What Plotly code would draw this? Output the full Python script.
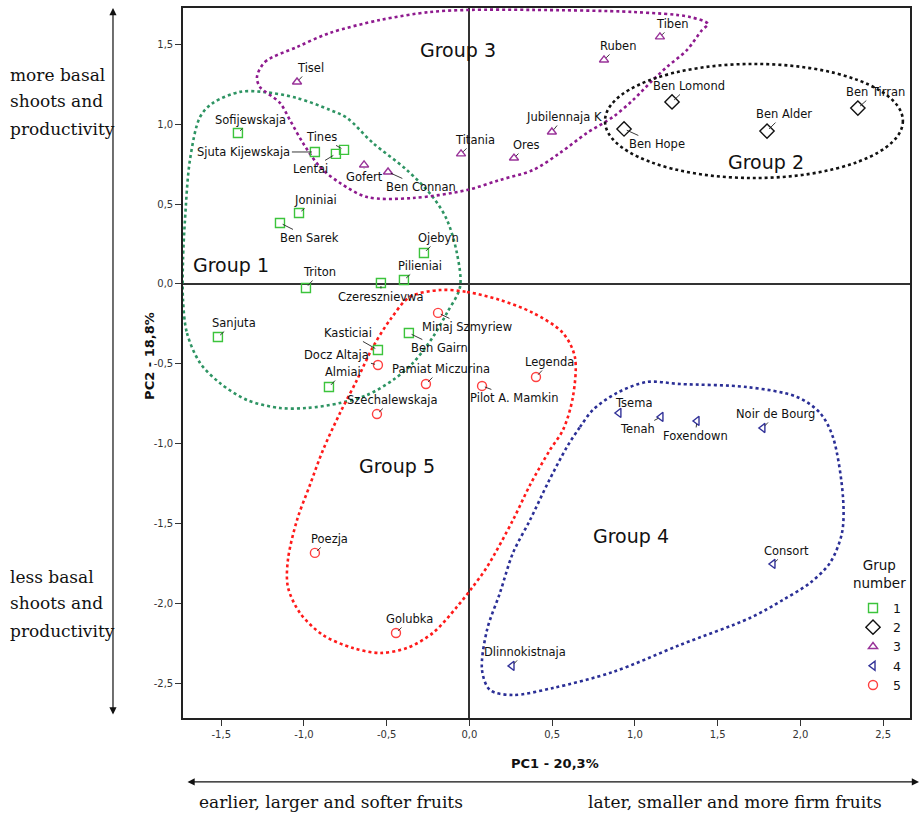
import plotly.graph_objects as go

# ---------------- data (PC1, PC2 scores) ----------------
g1_names = ["Sofijewskaja", "Sjuta Kijewskaja", "Tines", "Lentai", "Joniniai", "Ben Sarek",
            "Ojebyn", "Pilieniai", "Triton", "Czeresznievwa", "Sanjuta", "Kasticiai",
            "Almiai", "Ben Gairn"]
g1_pc1 = [-1.399, -0.934, -0.758, -0.807, -1.030, -1.145, -0.275, -0.396, -0.988, -0.535,
          -1.520, -0.553, -0.849, -0.366]
g1_pc2 = [0.945, 0.826, 0.839, 0.814, 0.444, 0.382, 0.194, 0.025, -0.025, 0.006,
          -0.332, -0.413, -0.645, -0.307]

g2_names = ["Ben Lomond", "Ben Hope", "Ben Alder", "Ben Tirran"]
g2_pc1 = [1.224, 0.934, 1.798, 2.347]
g2_pc2 = [1.139, 0.970, 0.957, 1.101]

g3_names = ["Tisel", "Gofert", "Ben Connan", "Titania", "Ores", "Jubilennaja K",
            "Ruben", "Tiben"]
g3_pc1 = [-1.042, -0.637, -0.492, -0.051, 0.269, 0.498, 0.813, 1.151]
g3_pc2 = [1.264, 0.745, 0.701, 0.814, 0.788, 0.951, 1.402, 1.546]

g4_names = ["Tsema", "Tenah", "Foxendown", "Noir de Bourg", "Consort", "Dlinnokistnaja"]
g4_pc1 = [0.903, 1.157, 1.375, 1.773, 1.834, 0.257]
g4_pc2 = [-0.807, -0.832, -0.857, -0.901, -1.752, -2.390]

g5_names = ["Minaj Szmyriew", "Docz Altaja", "Pamiat Miczurina", "Szechalewskaja",
            "Pilot A. Mamkin", "Legenda", "Poezja", "Golubka"]
g5_pc1 = [-0.190, -0.553, -0.263, -0.559, 0.076, 0.402, -0.934, -0.444]
g5_pc2 = [-0.181, -0.507, -0.626, -0.814, -0.638, -0.582, -1.683, -2.184]

# hand-drawn group outlines (PC1, PC2 vertices)
loop1_pc1 = [-1.731, -1.707, -1.628, -1.508, -1.344, -1.145, -0.982, -0.782, -0.619, -0.462,
             -0.341, -0.221, -0.136, -0.057, -0.076, -0.136, -0.221, -0.378, -0.583, -0.740,
             -0.843, -1.042, -1.248, -1.387, -1.550, -1.628, -1.689, -1.719, -1.731]
loop1_pc2 = [-0.100, -0.307, -0.494, -0.620, -0.726, -0.776, -0.776, -0.745, -0.695, -0.601,
             -0.494, -0.332, -0.181, -0.019, 0.194, 0.401, 0.544, 0.713, 0.882, 1.039,
             1.089, 1.164, 1.202, 1.202, 1.133, 1.045, 0.776, 0.401, 0.150]

loop2_pc1 = [0.819, 2.619]   # ellipse extent
loop2_pc2 = [0.663, 1.377]

loop3_pc1 = [-1.284, -1.236, -1.042, -0.843, -0.541, -0.239, 0.003, 0.384, 0.988, 1.332,
             1.441, 1.405, 1.314, 1.193, 1.109, 0.988, 0.867, 0.710, 0.547, 0.384,
             0.184, -0.015, -0.341, -0.619, -0.782, -0.903, -1.006, -1.085, -1.145, -1.266]
loop3_pc2 = [1.295, 1.389, 1.483, 1.571, 1.652, 1.702, 1.715, 1.715, 1.702, 1.671,
             1.627, 1.589, 1.464, 1.358, 1.277, 1.151, 1.045, 0.945, 0.820, 0.713,
             0.651, 0.588, 0.538, 0.544, 0.632, 0.732, 0.882, 1.026, 1.133, 1.233]

loop4_pc1 = [0.589, 0.668, 0.746, 0.891, 1.073, 1.272, 1.677, 1.979, 2.118, 2.196,
             2.257, 2.251, 2.178, 2.057, 1.894, 1.695, 1.272, 0.867, 0.505, 0.263,
             0.124, 0.076, 0.106, 0.184, 0.263, 0.366, 0.474]
loop4_pc2 = [-1.020, -0.895, -0.788, -0.682, -0.613, -0.626, -0.645, -0.707, -0.807, -0.957,
             -1.333, -1.558, -1.746, -1.871, -1.977, -2.090, -2.259, -2.428, -2.528, -2.572,
             -2.541, -2.416, -2.165, -1.934, -1.683, -1.477, -1.245]

loop5_pc1 = [-0.178, -0.015, 0.184, 0.384, 0.565, 0.637, 0.625, 0.565, 0.486, 0.366,
             0.263, 0.106, 0.015, -0.076, -0.221, -0.378, -0.541, -0.704, -0.885, -1.024,
             -1.097, -1.097, -1.042, -0.964, -0.885, -0.782, -0.680, -0.583, -0.480, -0.360]
loop5_pc2 = [-0.038, -0.050, -0.100, -0.181, -0.307, -0.457, -0.707, -0.914, -1.039, -1.258,
             -1.477, -1.771, -1.902, -2.021, -2.184, -2.278, -2.309, -2.278, -2.197, -2.059,
             -1.896, -1.727, -1.477, -1.258, -1.039, -0.807, -0.601, -0.394, -0.225, -0.081]

group_titles = ["Group 1", "Group 2", "Group 3", "Group 4", "Group 5"]
group_title_pc1 = [-1.441, 1.792, -0.069, 0.976, -0.438]
group_title_pc2 = [0.119, 0.763, 1.464, -1.577, -1.139]

x_tickvals = [-1.5, -1.0, -0.5, 0.0, 0.5, 1.0, 1.5, 2.0, 2.5]
x_ticktext = ["-1,5", "-1,0", "-0,5", "0,0", "0,5", "1,0", "1,5", "2,0", "2,5"]
y_tickvals = [1.5, 1.0, 0.5, 0.0, -0.5, -1.0, -1.5, -2.0, -2.5]
y_ticktext = ["1,5", "1,0", "0,5", "0,0", "-0,5", "-1,0", "-1,5", "-2,0", "-2,5"]

# ---------------- label placement (pixel offsets of label centre) ----------------
label_offsets = {
    "Sofijewskaja": (13, -13), "Sjuta Kijewskaja": (-71, 0), "Tines": (-23, -13),
    "Lentai": (-25, 15), "Joniniai": (16, -13), "Ben Sarek": (30, 15), "Ojebyn": (15, -15),
    "Pilieniai": (16, -14), "Triton": (14, -16), "Czeresznievwa": (0, 14),
    "Sanjuta": (16, -14), "Kasticiai": (-30, -17), "Almiai": (14, -15), "Ben Gairn": (31, 15),
    "Ben Lomond": (17, -16), "Ben Hope": (33, 15), "Ben Alder": (17, -17),
    "Ben Tirran": (18, -16),
    "Tisel": (13, -14), "Gofert": (0, 12), "Ben Connan": (33, 15), "Titania": (14, -14),
    "Ores": (13, -13), "Jubilennaja K": (12, -15), "Ruben": (14, -14), "Tiben": (13, -13),
    "Tsema": (15, -10), "Tenah": (-23, 12), "Foxendown": (-2, 15), "Noir de Bourg": (13, -14),
    "Consort": (14, -13), "Dlinnokistnaja": (13, -14),
    "Minaj Szmyriew": (29, 14), "Docz Altaja": (-41, -10), "Pamiat Miczurina": (15, -15),
    "Szechalewskaja": (15, -14), "Pilot A. Mamkin": (32, 12), "Legenda": (14, -15),
    "Poezja": (15, -14), "Golubka": (14, -14),
}

SANS = "DejaVu Sans"
SERIF = "DejaVu Serif"
INK = "#111111"

fig = go.Figure()

dot = "3px,3px"
loops = [
    (loop1_pc1, loop1_pc2, "#2e9463"),
    (loop3_pc1, loop3_pc2, "#8e1a8e"),
    (loop4_pc1, loop4_pc2, "#2b2f96"),
    (loop5_pc1, loop5_pc2, "#ff1a1a"),
]
for lx, ly, col in loops:
    fig.add_trace(go.Scatter(x=list(lx) + [lx[0]], y=list(ly) + [ly[0]], mode="lines",
                             line=dict(color=col, width=2.6, dash=dot, shape="spline",
                                       smoothing=0.9),
                             hoverinfo="skip", showlegend=False))

fig.add_shape(type="circle", xref="x", yref="y",
              x0=loop2_pc1[0], x1=loop2_pc1[1], y0=loop2_pc2[0], y1=loop2_pc2[1],
              line=dict(color=INK, width=2.6, dash=dot))

groups = [
    ("1", g1_names, g1_pc1, g1_pc2, "square-open", "#3cc43c", 9),
    ("2", g2_names, g2_pc1, g2_pc2, "diamond-open", INK, 11),
    ("3", g3_names, g3_pc1, g3_pc2, "triangle-up-open", "#993399", 8),
    ("4", g4_names, g4_pc1, g4_pc2, "triangle-left-open", "#333399", 8),
    ("5", g5_names, g5_pc1, g5_pc2, "circle-open", "#ff4040", 9),
]
annotations = []
for gname, names, xs, ys, sym, col, size in groups:
    fig.add_trace(go.Scatter(x=xs, y=ys, mode="markers", name=gname, text=names,
                             marker=dict(symbol=sym, color=col, size=size,
                                         line=dict(width=1.4, color=col))))
    for n, xv, yv in zip(names, xs, ys):
        ax, ay = label_offsets[n]
        annotations.append(dict(x=xv, y=yv, xref="x", yref="y", text=n, showarrow=True,
                                ax=ax, ay=ay, arrowhead=0, arrowwidth=0.9,
                                arrowcolor="#222222", standoff=3,
                                font=dict(family=SANS, size=11.5, color=INK)))

for t, xv, yv in zip(group_titles, group_title_pc1, group_title_pc2):
    annotations.append(dict(x=xv, y=yv, xref="x", yref="y", text=t, showarrow=False,
                            font=dict(family=SANS, size=19, color=INK)))


def paper_text(text, x, y, size, family=SANS, xanchor="center", angle=0):
    return dict(x=x, y=y, xref="paper", yref="paper", text=text, showarrow=False,
                xanchor=xanchor, yanchor="middle", textangle=angle, align="center",
                font=dict(family=family, size=size, color=INK))


# axis titles
annotations.append(paper_text("<b>PC1 - 20,3%</b>", 0.5117, -0.0634, 13))
annotations.append(paper_text("<b>PC2 - 18,8%</b>", -0.0454, 0.51, 13, angle=-90))

# legend title
annotations.append(paper_text("Grup<br>number", 0.9574, 0.2028, 13.5))

# outer double arrows
annotations.append(dict(x=-0.0963, y=1.0, xref="paper", yref="paper", text="",
                        showarrow=True, ax=0, ay=708, arrowside="end+start",
                        arrowhead=2, arrowsize=1.2, arrowwidth=1.2, arrowcolor=INK))
annotations.append(dict(x=1.0124, y=-0.0901, xref="paper", yref="paper", text="",
                        showarrow=True, ax=-733, ay=0, arrowside="end+start",
                        arrowhead=2, arrowsize=1.2, arrowwidth=1.2, arrowcolor=INK))

side_lines = [("more basal", 0.9056), ("shoots and", 0.869), ("productivity", 0.8296),
              ("less basal", 0.1986), ("shoots and", 0.162), ("productivity", 0.1225)]
for t, yv in side_lines:
    annotations.append(paper_text(t, -0.2407, yv, 17, family=SERIF, xanchor="left"))
annotations.append(paper_text("earlier, larger and softer fruits", 0.2036, -0.1183, 17,
                              family=SERIF))
annotations.append(paper_text("later, smaller and more firm fruits", 0.7593, -0.1183, 17,
                              family=SERIF))

axis_common = dict(showgrid=False, zeroline=True, zerolinecolor="#333333", zerolinewidth=1.6,
                   showline=True, linecolor="#222222", linewidth=1.6, mirror=True,
                   ticks="outside", ticklen=6, tickwidth=1.2, tickcolor="#333333",
                   tickfont=dict(family=SANS, size=10, color="#333333"))

fig.update_layout(
    width=920, height=814,
    margin=dict(l=183, r=10, t=8, b=96, autoexpand=False),
    paper_bgcolor="white", plot_bgcolor="white",
    xaxis=dict(range=[-1.731, 2.662], tickvals=x_tickvals, ticktext=x_ticktext,
               **axis_common),
    yaxis=dict(range=[-2.716, 1.727], tickvals=y_tickvals, ticktext=y_ticktext,
               **axis_common),
    annotations=annotations,
    legend=dict(x=0.9216, y=0.1756, xanchor="left", yanchor="top",
                bgcolor="rgba(255,255,255,0)",
                font=dict(family=SANS, size=12.5, color=INK),
                tracegroupgap=0, itemwidth=30),
    showlegend=True,
)

fig.write_html("out.html", config={"displayModeBar": False},
               post_script="document.body.style.margin='0';")
